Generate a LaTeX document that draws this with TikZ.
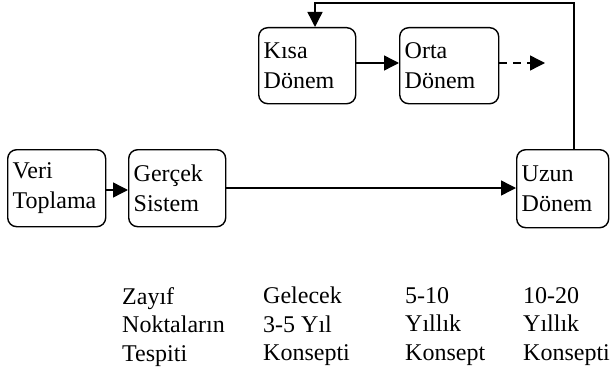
\documentclass[tikz,border=0pt]{standalone}
\usepackage{fontspec}
\setmainfont{Liberation Serif}
\usetikzlibrary{arrows.meta}
\begin{document}
\begin{tikzpicture}[x=1pt,y=-1pt,
  box/.style={draw,line width=1.4pt,rounded corners=9pt,anchor=north west,
    align=left,inner xsep=5pt,inner ysep=0pt,
    font=\fontsize{24}{30}\selectfont},
  conn/.style={line width=1.4pt,-{Triangle[length=15pt,width=15pt]}},
  caption/.style={anchor=north west,align=left,inner sep=0pt,
    font=\fontsize{24}{28.5}\selectfont}]
\useasboundingbox (0,0) rectangle (610,369);
\node[box,minimum width=97pt,minimum height=77pt,text width=88pt] (veri) at (7,149) {Veri\\Toplama};
\node[box,minimum width=97pt,minimum height=77pt,text width=87pt] (gercek) at (128,149) {Gerçek\\Sistem};
\node[box,minimum width=97pt,minimum height=76pt,text width=87pt] (kisa) at (258,27) {Kısa\\Dönem};
\node[box,minimum width=99pt,minimum height=76pt,text width=89pt] (orta) at (399,27) {Orta\\Dönem};
\node[box,minimum width=92pt,minimum height=78pt,text width=82pt] (uzun) at (516,149) {Uzun\\Dönem};
\coordinate (open) at (545,63);
\coordinate (tr) at (574,3);
\coordinate (tl) at (315,3);
\draw[conn] (veri.east |- 0,190) -- (gercek.west |- 0,190);
\draw[conn] (gercek.east |- 0,188) -- (uzun.west |- 0,188);
\draw[conn] (kisa.east |- 0,63) -- (orta.west |- 0,63);
\draw[conn,dash pattern=on 8pt off 6pt] (orta.east |- 0,63) -- (open);
\draw[conn] (uzun.north -| tr) -- (tr) -- (tl) -- (kisa.north -| tl);
\node[caption] (c1) at (122,287) {Zayıf\\Noktaların\\Tespiti};
\node[caption] (c2) at (263,287) {Gelecek\\3-5 Yıl\\Konsepti};
\node[caption] (c3) at (405,287) {5-10\\Yıllık\\Konsept};
\node[caption] (c4) at (523,287) {10-20\\Yıllık\\Konsepti};
\end{tikzpicture}
\end{document}
